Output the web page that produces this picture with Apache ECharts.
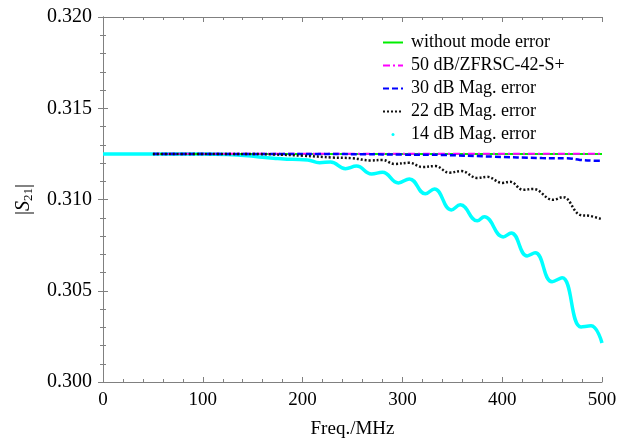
<!DOCTYPE html>
<html>
<head>
<meta charset="utf-8">
<script src="https://cdn.jsdelivr.net/npm/echarts@6/dist/echarts.min.js"></script>
<style>
  html, body { margin: 0; padding: 0; background: #fff; }
  #s21_chart { width: 623px; height: 444px; }
</style>
</head>
<body>
<div id="s21_chart"></div>
<script>
// |S21| vs frequency for several mode-error levels
var dom = document.getElementById("s21_chart");
var myChart_s21 = echarts.init(dom);

var option;

var seriesNames = ['without mode error', '50 dB/ZFRSC-42-S+', '30 dB Mag. error', '22 dB Mag. error', '14 dB Mag. error'];

// without mode error
var freq_ref = [50, 500];
var s21_ref = [0.3125, 0.3125];

// 50 dB
var freq_50 = [50, 500];
var s21_50 = [0.31251, 0.31251];

// 30 dB
var freq_30 = [50, 200, 260, 300, 340, 390, 440, 465, 478, 490, 500];
var s21_30 = [0.3125, 0.3125, 0.31248, 0.31246, 0.31244, 0.31235, 0.31227, 0.31226, 0.31217, 0.31213, 0.31212];

// 22 dB
var freq_22 = [50, 140, 170, 200, 230, 250, 268, 280, 292, 307, 320, 333, 347, 359, 375, 385, 400, 408, 421, 431, 451, 461, 478, 488, 500];
var s21_22 = [0.3125, 0.3125, 0.31247, 0.3124, 0.3123, 0.31226, 0.31214, 0.31217, 0.31195, 0.31201, 0.31178, 0.31183, 0.31147, 0.31156,
    0.31118, 0.31124, 0.31091, 0.31097, 0.31053, 0.31058, 0.30998, 0.31013, 0.30916, 0.3091, 0.30892];

// 14 dB
var freq_14 = [0, 100, 125, 145, 160, 175, 190, 205, 217, 228, 243, 254, 269, 280, 296, 307, 323, 332, 349, 358, 375, 382, 401, 409,
    425, 433, 450, 460, 479, 489, 500];
var s21_14 = [0.3125, 0.3125, 0.31247, 0.3124, 0.31231, 0.31225, 0.3122, 0.31217, 0.31202, 0.31205, 0.31169, 0.31183, 0.3114, 0.31149,
    0.31091, 0.31113, 0.31031, 0.31058, 0.30943, 0.30971, 0.30883, 0.30905, 0.30795, 0.30817, 0.30691, 0.30708, 0.30549, 0.30571,
    0.30302, 0.30308, 0.30214];

function pairs(xs, ys) {
    return xs.map(function (x, i) { return [x, ys[i]]; });
}

var serif = 'Liberation Serif';
var axisGray = '#808080';

var frameAxis = {
    axisLine: { show: true, lineStyle: { color: axisGray, width: 1 } },
    axisTick: { show: true, inside: true, length: 5, lineStyle: { color: axisGray } },
    minorTick: { show: true, splitNumber: 5, length: 3, lineStyle: { color: axisGray } },
    splitLine: { show: false }
};

option = {
    backgroundColor: '#fff',
    animation: false,
    grid: { left: 103, right: 21, top: 17, bottom: 62 },
    legend: {
        orient: 'vertical',
        left: 377,
        top: 28,
        itemWidth: 20,
        itemHeight: 12,
        itemGap: 4,
        itemStyle: { opacity: 0 },
        textStyle: { fontFamily: serif, fontSize: 18, color: '#000', lineHeight: 19, padding: [0, 0, 0, 3] },
        data: [
            { name: seriesNames[0] },
            { name: seriesNames[1] },
            { name: seriesNames[2] },
            { name: seriesNames[3] },
            {
                name: seriesNames[4], itemStyle: { opacity: 1 },
                icon: 'path://M0,0 M20,12 M8.5,6 A1.5,1.5 0 1 1 11.5,6 A1.5,1.5 0 1 1 8.5,6 Z'
            }
        ]
    },
    xAxis: [
        Object.assign({
            type: 'value', min: 0, max: 500, interval: 100,
            name: 'Freq./MHz', nameLocation: 'middle', nameGap: 38,
            nameTextStyle: { fontFamily: serif, fontSize: 19, color: '#000' },
            axisLabel: { fontFamily: serif, fontSize: 19, color: '#000', margin: 9 }
        }, frameAxis),
        Object.assign({
            type: 'value', min: 0, max: 500, interval: 100, position: 'top',
            axisLabel: { show: false }
        }, frameAxis)
    ],
    yAxis: [
        Object.assign({
            type: 'value', min: 0.3, max: 0.32, interval: 0.005,
            name: '|{i|S}{s|21}|', nameLocation: 'middle', nameGap: 68, nameRotate: 90,
            nameTextStyle: {
                fontFamily: serif, fontSize: 20, color: '#000',
                rich: {
                    i: { fontFamily: serif, fontSize: 20, fontStyle: 'italic', color: '#000' },
                    s: { fontFamily: serif, fontSize: 13, color: '#000', padding: [9, 0, 0, 0] }
                }
            },
            axisLabel: {
                fontFamily: serif, fontSize: 20, color: '#000', margin: 11,
                formatter: function (v) { return v.toFixed(3); }
            }
        }, frameAxis),
        Object.assign({
            type: 'value', min: 0.3, max: 0.32, interval: 0.005, position: 'right',
            axisLabel: { show: false }
        }, frameAxis)
    ],
    series: [
        {
            name: seriesNames[0], type: 'line', data: pairs(freq_ref, s21_ref),
            showSymbol: false, symbol: 'none', z: 3,
            lineStyle: { color: '#00ee00', width: 2 }, itemStyle: { color: '#00ee00' }
        },
        {
            name: seriesNames[1], type: 'line', data: pairs(freq_50, s21_50),
            showSymbol: false, symbol: 'none', z: 4,
            lineStyle: { color: '#ff00ff', width: 2, type: [7, 3, 2, 3] }, itemStyle: { color: '#ff00ff' }
        },
        {
            name: seriesNames[2], type: 'line', data: pairs(freq_30, s21_30), smooth: 0.4,
            showSymbol: false, symbol: 'none', z: 5,
            lineStyle: { color: '#0000ff', width: 2.5, type: [6, 3] }, itemStyle: { color: '#0000ff' }
        },
        {
            name: seriesNames[3], type: 'line', data: pairs(freq_22, s21_22), smooth: 0.4,
            showSymbol: false, symbol: 'none', z: 6,
            lineStyle: { color: '#111', width: 2.5, type: [2, 2] }, itemStyle: { color: '#111' }
        },
        {
            name: seriesNames[4], type: 'line', data: pairs(freq_14, s21_14), smooth: 0.45,
            showSymbol: false, symbol: 'none', z: 2,
            lineStyle: { color: '#00ffff', width: 3.5 }, itemStyle: { color: '#00ffff' }
        }
    ]
};

if (option && typeof option === 'object') {
    myChart_s21.setOption(option);
}
</script>
</body>
</html>
